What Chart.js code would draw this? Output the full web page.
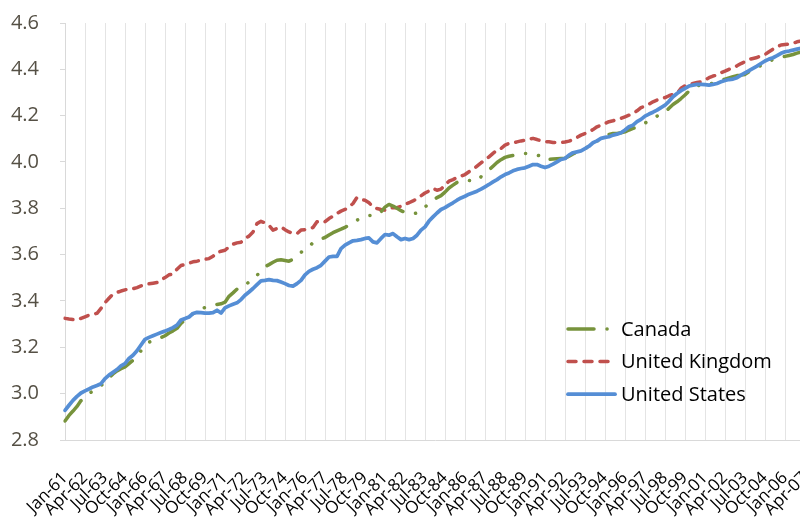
<!DOCTYPE html>
<html>
<head>
<meta charset="utf-8">
<script src="https://cdn.jsdelivr.net/npm/chart.js@4/dist/chart.umd.min.js"></script>
<style>
  html, body { margin: 0; padding: 0; background: #fff; overflow: hidden; }
  #wrap { position: relative; width: 812px; height: 523px; }
</style>
</head>
<body>
<div id="wrap"><canvas id="chartPaises"></canvas></div>
<script>
// quarterly observations, Jan-61 .. Apr-07
const tickLabels = [
    'Jan-61', 'Apr-62', 'Jul-63', 'Oct-64', 'Jan-66', 'Apr-67', 'Jul-68', 'Oct-69',
    'Jan-71', 'Apr-72', 'Jul-73', 'Oct-74', 'Jan-76', 'Apr-77', 'Jul-78', 'Oct-79',
    'Jan-81', 'Apr-82', 'Jul-83', 'Oct-84', 'Jan-86', 'Apr-87', 'Jul-88', 'Oct-89',
    'Jan-91', 'Apr-92', 'Jul-93', 'Oct-94', 'Jan-96', 'Apr-97', 'Jul-98', 'Oct-99',
    'Jan-01', 'Apr-02', 'Jul-03', 'Oct-04', 'Jan-06', 'Apr-07'
];

const canada = [
    2.882, 2.906, 2.925, 2.945, 2.970, 2.985, 3.000, 3.012, 3.020, 3.035,
    3.050, 3.068, 3.085, 3.098, 3.108, 3.116, 3.130, 3.144, 3.162, 3.185,
    3.210, 3.222, 3.230, 3.237, 3.242, 3.250, 3.262, 3.271, 3.282, 3.303,
    3.318, 3.332, 3.345, 3.355, 3.365, 3.372, 3.378, 3.382, 3.385, 3.388,
    3.395, 3.420, 3.435, 3.451, 3.454, 3.468, 3.482, 3.494, 3.510, 3.533,
    3.548, 3.557, 3.567, 3.576, 3.578, 3.575, 3.572, 3.580, 3.593, 3.610,
    3.622, 3.634, 3.652, 3.660, 3.668, 3.674, 3.685, 3.695, 3.703, 3.710,
    3.718, 3.727, 3.737, 3.749, 3.756, 3.763, 3.769, 3.770, 3.770, 3.785,
    3.805, 3.817, 3.810, 3.800, 3.790, 3.782, 3.778, 3.776, 3.780, 3.799,
    3.806, 3.820, 3.835, 3.846, 3.855, 3.870, 3.888, 3.900, 3.912, 3.920,
    3.922, 3.920, 3.918, 3.919, 3.936, 3.950, 3.965, 3.982, 3.998, 4.010,
    4.020, 4.025, 4.028, 4.032, 4.035, 4.037, 4.036, 4.034, 4.030, 4.025,
    4.010, 4.011, 4.013, 4.014, 4.015, 4.016, 4.025, 4.035, 4.042, 4.048,
    4.058, 4.068, 4.080, 4.090, 4.100, 4.108, 4.119, 4.123, 4.123, 4.126,
    4.130, 4.138, 4.145, 4.150, 4.160, 4.168, 4.177, 4.188, 4.198, 4.206,
    4.215, 4.232, 4.248, 4.260, 4.274, 4.289, 4.306, 4.320, 4.329, 4.332,
    4.334, 4.336, 4.340, 4.345, 4.352, 4.358, 4.363, 4.368, 4.373, 4.375,
    4.378, 4.390, 4.397, 4.407, 4.417, 4.427, 4.435, 4.442, 4.448, 4.452,
    4.456, 4.460, 4.464, 4.470, 4.475, 4.480
];

const reinoUnido = [
    3.325, 3.322, 3.320, 3.318, 3.325, 3.332, 3.339, 3.342, 3.347, 3.368,
    3.393, 3.412, 3.430, 3.437, 3.443, 3.448, 3.452, 3.453, 3.458, 3.465,
    3.471, 3.474, 3.477, 3.480, 3.491, 3.501, 3.513, 3.517, 3.537, 3.553,
    3.558, 3.563, 3.569, 3.572, 3.576, 3.580, 3.583, 3.593, 3.609, 3.615,
    3.619, 3.634, 3.645, 3.651, 3.654, 3.670, 3.680, 3.698, 3.734, 3.744,
    3.737, 3.727, 3.706, 3.713, 3.720, 3.708, 3.698, 3.691, 3.691, 3.706,
    3.708, 3.714, 3.717, 3.742, 3.746, 3.742, 3.756, 3.766, 3.778, 3.788,
    3.795, 3.806, 3.821, 3.847, 3.838, 3.835, 3.824, 3.806, 3.799, 3.795,
    3.792, 3.799, 3.803, 3.803, 3.809, 3.818, 3.824, 3.832, 3.842, 3.854,
    3.866, 3.875, 3.886, 3.878, 3.883, 3.900, 3.917, 3.924, 3.933, 3.939,
    3.946, 3.958, 3.968, 3.982, 3.996, 4.011, 4.022, 4.037, 4.051, 4.058,
    4.073, 4.080, 4.082, 4.087, 4.091, 4.094, 4.099, 4.102, 4.097, 4.091,
    4.088, 4.087, 4.084, 4.084, 4.084, 4.086, 4.090, 4.097, 4.106, 4.116,
    4.123, 4.130, 4.140, 4.152, 4.159, 4.166, 4.174, 4.178, 4.184, 4.188,
    4.195, 4.202, 4.210, 4.221, 4.235, 4.241, 4.250, 4.260, 4.267, 4.272,
    4.278, 4.286, 4.292, 4.296, 4.318, 4.329, 4.335, 4.339, 4.343, 4.346,
    4.354, 4.364, 4.371, 4.375, 4.385, 4.392, 4.400, 4.407, 4.415, 4.425,
    4.433, 4.443, 4.447, 4.451, 4.459, 4.464, 4.476, 4.487, 4.497, 4.505,
    4.507, 4.509, 4.512, 4.519, 4.522, 4.526
];

const estadosUnidos = [
    2.928, 2.950, 2.971, 2.988, 3.003, 3.012, 3.020, 3.029, 3.035, 3.043,
    3.065, 3.080, 3.092, 3.104, 3.120, 3.130, 3.152, 3.166, 3.185, 3.210,
    3.234, 3.243, 3.250, 3.257, 3.264, 3.270, 3.277, 3.285, 3.296, 3.318,
    3.324, 3.331, 3.346, 3.351, 3.350, 3.348, 3.348, 3.350, 3.360, 3.348,
    3.370, 3.379, 3.386, 3.392, 3.406, 3.425, 3.439, 3.454, 3.471, 3.487,
    3.489, 3.492, 3.489, 3.488, 3.482, 3.475, 3.467, 3.464, 3.475, 3.489,
    3.513, 3.528, 3.537, 3.544, 3.554, 3.572, 3.590, 3.593, 3.593, 3.626,
    3.641, 3.651, 3.660, 3.662, 3.665, 3.670, 3.672, 3.655, 3.651, 3.670,
    3.687, 3.684, 3.691, 3.677, 3.665, 3.670, 3.665, 3.670, 3.684, 3.706,
    3.720, 3.745, 3.763, 3.780, 3.795, 3.803, 3.814, 3.824, 3.835, 3.845,
    3.852, 3.861, 3.867, 3.874, 3.883, 3.893, 3.903, 3.914, 3.924, 3.936,
    3.946, 3.953, 3.962, 3.968, 3.972, 3.975, 3.982, 3.989, 3.989, 3.982,
    3.976, 3.982, 3.991, 4.001, 4.011, 4.015, 4.030, 4.040, 4.044, 4.048,
    4.058, 4.068, 4.083, 4.091, 4.102, 4.106, 4.109, 4.116, 4.120, 4.126,
    4.138, 4.152, 4.159, 4.174, 4.184, 4.198, 4.207, 4.215, 4.224, 4.235,
    4.245, 4.262, 4.282, 4.296, 4.308, 4.318, 4.328, 4.332, 4.335, 4.335,
    4.334, 4.332, 4.335, 4.339, 4.346, 4.352, 4.356, 4.358, 4.364, 4.375,
    4.385, 4.394, 4.404, 4.414, 4.425, 4.436, 4.444, 4.450, 4.459, 4.469,
    4.476, 4.479, 4.483, 4.487, 4.491, 4.495
];

const MESES = ['Jan', 'Apr', 'Jul', 'Oct'];
const trimestres = [];
for (let i = 0; i < estadosUnidos.length; i++) {
    const anio = (61 + Math.floor(i / 4)) % 100;
    trimestres.push(MESES[i % 4] + '-' + String(anio).padStart(2, '0'));
}

const colorRejilla = '#e4e4e4';

// legend drawn inside the plot, lower right
const leyendaInterna = {
    id: 'leyendaInterna',
    afterDraw(chart, args, opts) {
        const ctx = chart.ctx;
        ctx.save();
        ctx.font = opts.font;
        ctx.textBaseline = 'middle';
        chart.data.datasets.forEach((ds, i) => {
            const y = opts.top + i * opts.fila;
            ctx.beginPath();
            ctx.setLineDash(ds.borderDash || []);
            ctx.lineCap = ds.borderCapStyle || 'butt';
            ctx.lineWidth = ds.borderWidth;
            ctx.strokeStyle = ds.borderColor;
            ctx.moveTo(opts.left, y);
            ctx.lineTo(opts.left + opts.largo, y);
            ctx.stroke();
            ctx.setLineDash([]);
            ctx.fillStyle = opts.color;
            ctx.fillText(ds.label, opts.left + opts.largo + 6, y + 1);
        });
        ctx.restore();
    }
};

new Chart(document.getElementById('chartPaises'), {
    type: 'line',
    data: {
        labels: trimestres,
        datasets: [
            {
                label: 'Canada',
                data: canada,
                borderColor: '#77933C',
                borderWidth: 3.5,
                borderDash: [26, 13, 0.1, 13, 0.1, 13],
                borderCapStyle: 'round',
                order: 1
            },
            {
                label: 'United Kingdom',
                data: reinoUnido,
                borderColor: '#C0504D',
                borderWidth: 3.5,
                borderDash: [8, 8],
                borderCapStyle: 'round',
                order: 2
            },
            {
                label: 'United States',
                data: estadosUnidos,
                borderColor: '#558ED5',
                borderWidth: 3.75,
                borderCapStyle: 'round',
                order: 0
            }
        ]
    },
    options: {
        responsive: true,
        maintainAspectRatio: false,
        animation: false,
        layout: { padding: { top: 23, right: 7, left: 0, bottom: 0 } },
        elements: {
            point: { radius: 0 },
            line: { tension: 0, borderJoinStyle: 'round' }
        },
        scales: {
            x: {
                offset: false,
                grid: {
                    color: c => c.index % 5 === 0 ? colorRejilla : 'rgba(0,0,0,0)',
                    drawTicks: false
                },
                border: { color: '#d9d9d9' },
                ticks: {
                    autoSkip: false,
                    maxRotation: 45,
                    minRotation: 45,
                    padding: 28,
                    color: '#000',
                    font: { family: 'Open Sans', size: 17 },
                    callback: (v, i) => i % 5 === 0 ? tickLabels[i / 5] : ''
                },
                afterFit: s => {
                    s.height = 83;
                    s.paddingLeft = 0;
                    s.paddingRight = 0;
                }
            },
            y: {
                min: 2.8,
                max: 4.6,
                grid: { drawOnChartArea: false, tickLength: 5, color: '#d9d9d9' },
                border: { color: '#d9d9d9' },
                ticks: {
                    stepSize: 0.2,
                    padding: 21,
                    color: '#555045',
                    font: { family: 'Open Sans', size: 20 },
                    callback: v => v.toFixed(1)
                },
                afterFit: s => {
                    s.width = 65;
                    s.paddingTop = 0;
                    s.paddingBottom = 0;
                }
            }
        },
        plugins: {
            legend: { display: false },
            tooltip: { enabled: false },
            leyendaInterna: {
                left: 568,
                top: 329,
                fila: 32.6,
                largo: 47,
                font: '20px "Open Sans"',
                color: '#000'
            }
        }
    },
    plugins: [leyendaInterna]
});
</script>
</body>
</html>
